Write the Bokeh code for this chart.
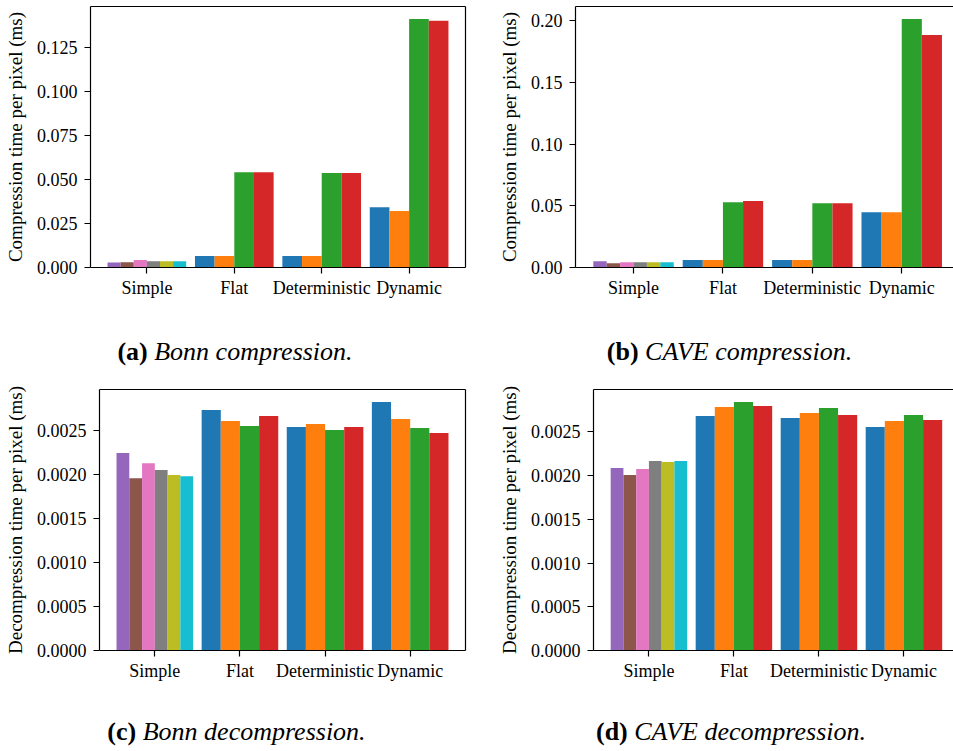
from bokeh.plotting import figure
from bokeh.models import FixedTicker, NumeralTickFormatter, LinearAxis, Range1d, Div, ColumnDataSource
from bokeh.layouts import column, row
from bokeh.embed import file_html
from bokeh.resources import INLINE

categories = ["Simple", "Flat", "Deterministic", "Dynamic"]
simple_colors = ["#9467bd", "#8c564b", "#e377c2", "#7f7f7f", "#bcbd22", "#17becf"]
method_colors = ["#1f77b4", "#ff7f0e", "#2ca02c", "#d62728"]

# (a) Bonn compression
bonn_comp_simple = [0.0029, 0.0030, 0.0042, 0.0036, 0.0036, 0.0036]
bonn_comp_flat = [0.0065, 0.0065, 0.0542, 0.0542]
bonn_comp_det = [0.0065, 0.0065, 0.0537, 0.0537]
bonn_comp_dyn = [0.0343, 0.0321, 0.1413, 0.1402]
bonn_comp_ticks = [0.0, 0.025, 0.05, 0.075, 0.1, 0.125]

# (b) CAVE compression
cave_comp_simple = [0.0051, 0.0035, 0.0043, 0.0043, 0.0043, 0.0043]
cave_comp_flat = [0.0060, 0.0060, 0.0530, 0.0539]
cave_comp_det = [0.0060, 0.0060, 0.0522, 0.0522]
cave_comp_dyn = [0.0449, 0.0449, 0.2016, 0.1886]
cave_comp_ticks = [0.0, 0.05, 0.10, 0.15, 0.20]

# (c) Bonn decompression
bonn_dec_simple = [0.002245, 0.001960, 0.002131, 0.002052, 0.001995, 0.001983]
bonn_dec_flat = [0.002736, 0.002610, 0.002553, 0.002667]
bonn_dec_det = [0.002542, 0.002576, 0.002508, 0.002542]
bonn_dec_dyn = [0.002827, 0.002633, 0.002530, 0.002473]
dec_ticks = [0.0, 0.0005, 0.0010, 0.0015, 0.0020, 0.0025]

# (d) CAVE decompression
cave_dec_simple = [0.002087, 0.002007, 0.002076, 0.002167, 0.002156, 0.002167]
cave_dec_flat = [0.002683, 0.002787, 0.002844, 0.002798]
cave_dec_det = [0.002661, 0.002718, 0.002775, 0.002695]
cave_dec_dyn = [0.002557, 0.002626, 0.002695, 0.002638]

FONT = "Liberation Serif"


def make_panel(simple, flat, det, dyn, ticks, fmt, ylabel, x_start, x_end,
               width, height, mb_left, mb_right, mb_top, mb_bottom, right_axis):
    xs, tops, ws, cols = [], [], [], []
    group = 0.9
    n = len(simple)
    for i, v in enumerate(simple):
        w = group / n
        xs.append(0 - group / 2 + w * (i + 0.5))
        tops.append(v)
        ws.append(w)
        cols.append(simple_colors[i])
    for k, vals in enumerate([flat, det, dyn], start=1):
        m = len(vals)
        for j, v in enumerate(vals):
            w = group / m
            xs.append(k - group / 2 + w * (j + 0.5))
            tops.append(v)
            ws.append(w)
            cols.append(method_colors[j])
    src = ColumnDataSource(dict(x=xs, top=tops, w=ws, color=cols))
    ymax = max(tops) * 1.05
    p = figure(width=width, height=height, output_backend="svg", toolbar_location=None,
               x_range=Range1d(x_start, x_end), y_range=Range1d(0, ymax),
               min_border_left=mb_left, min_border_right=mb_right,
               min_border_top=mb_top, min_border_bottom=mb_bottom,
               outline_line_color=None, background_fill_color="white",
               border_fill_color="white")
    p.vbar(x="x", top="top", width="w", bottom=0, color="color", line_color=None, source=src)
    p.grid.visible = False

    xa = p.xaxis[0]
    xa.ticker = FixedTicker(ticks=list(range(len(categories))))
    xa.major_label_overrides = {i: c for i, c in enumerate(categories)}
    ya = p.yaxis[0]
    ya.ticker = FixedTicker(ticks=ticks)
    ya.formatter = NumeralTickFormatter(format=fmt)
    ya.axis_label = ylabel
    for ax in (xa, ya):
        ax.major_label_text_font = FONT
        ax.major_label_text_font_size = "18px"
        ax.major_label_text_color = "black"
        ax.axis_label_text_font = FONT
        ax.axis_label_text_font_size = "19px"
        ax.axis_label_text_font_style = "normal"
        ax.axis_label_text_color = "black"
        ax.axis_line_color = "black"
        ax.axis_line_width = 1.2
        ax.major_tick_line_color = "black"
        ax.major_tick_line_width = 1.2
        ax.major_tick_in = 0
        ax.major_tick_out = 6
        ax.minor_tick_line_color = None
    xa.major_label_standoff = 4
    ya.major_label_standoff = 7
    ya.axis_label_standoff = 8

    sides = ["above"] + (["right"] if right_axis else [])
    for side in sides:
        ax = LinearAxis(ticker=FixedTicker(ticks=[]), major_tick_in=0, major_tick_out=0,
                        minor_tick_line_color=None, major_label_standoff=0,
                        major_label_text_font_size="0px", axis_line_color="black",
                        axis_line_width=1.2)
        p.add_layout(ax, side)
    return p


pa = make_panel(bonn_comp_simple, bonn_comp_flat, bonn_comp_det, bonn_comp_dyn,
                bonn_comp_ticks, "0.000", "Compression time per pixel (ms)",
                -0.645, 3.645, 475, 300, 90, 10, 6, 33, True)
pb = make_panel(cave_comp_simple, cave_comp_flat, cave_comp_det, cave_comp_dyn,
                cave_comp_ticks, "0.00", "Compression time per pixel (ms)",
                -0.649, 3.579, 478, 300, 100, 0, 6, 33, False)
pc = make_panel(bonn_dec_simple, bonn_dec_flat, bonn_dec_det, bonn_dec_dyn,
                dec_ticks, "0.0000", "Decompression time per pixel (ms)",
                -0.65, 3.65, 475, 298, 99, 10, 4, 33, True)
pd = make_panel(cave_dec_simple, cave_dec_flat, cave_dec_det, cave_dec_dyn,
                dec_ticks, "0.0000", "Decompression time per pixel (ms)",
                -0.652, 3.583, 478, 298, 118, 0, 4, 33, False)


def caption(label, text, width, height, pad_top, pad_left, pad_right):
    html = (f'<div style="width:{width}px;box-sizing:border-box;text-align:center;'
            f'font-family:\'{FONT}\';font-size:26px;line-height:30px;color:black;'
            f'padding-top:{pad_top}px;padding-left:{pad_left}px;padding-right:{pad_right}px;">'
            f'<b>{label}</b> <i>{text}</i></div>')
    return Div(text=html, width=width, height=height, margin=(0, 0, 0, 0))


ca = caption("(a)", "Bonn compression.", 475, 85, 37, 0, 5)
cb = caption("(b)", "CAVE compression.", 478, 85, 37, 31, 0)
cc = caption("(c)", "Bonn decompression.", 475, 66, 34, 0, 2)
cd = caption("(d)", "CAVE decompression.", 478, 66, 34, 34, 0)

layout = column(row(pa, pb), row(ca, cb), row(pc, pd), row(cc, cd))

open("out.html", "w").write(file_html(layout, INLINE))
